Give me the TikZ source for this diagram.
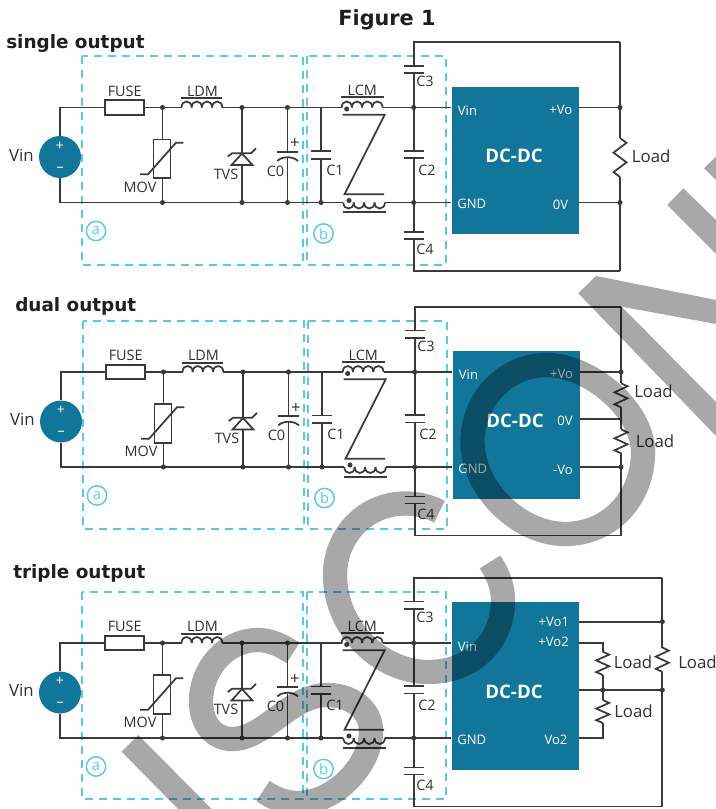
\documentclass[tikz,border=0pt]{standalone}
\usepackage{fontspec}
\setmainfont{Open Sans}
\newfontfamily\headfont{DejaVu Sans}
\definecolor{wirec}{HTML}{3A3A3A}
\definecolor{textc}{HTML}{303030}
\definecolor{bluec}{HTML}{11769A}
\definecolor{cyanc}{HTML}{55CBE5}
\tikzset{
  wire/.style={draw=wirec,line width=1.3pt},
  jdot/.style={circle,fill=wirec,inner sep=0pt,minimum size=3.8pt},
  lab/.style={text=textc,inner sep=0pt,font=\fontsize{10.8}{12}\selectfont},
  bigl/.style={text=textc,inner sep=0pt,font=\fontsize{12.6}{14}\selectfont},
  inbox/.style={text=white,inner sep=0pt,font=\fontsize{9.8}{12}\selectfont},
  dclab/.style={text=white,inner sep=0pt,font=\fontsize{14}{16}\selectfont\bfseries},
  head/.style={text=black!88,inner sep=0pt,font=\headfont\bfseries\fontsize{13.8}{16}\selectfont,anchor=base west},
  zone/.style={draw=cyanc,line width=1.4pt,dash pattern=on 6pt off 4.5pt},
  zonemark/.style={circle,draw=cyanc,text=cyanc,line width=1.1pt,inner sep=0pt,minimum size=14.5pt,font=\fontsize{11}{12}\selectfont},
  srcnode/.style={circle,fill=bluec,inner sep=0pt,minimum size=31.5pt},
  fusebox/.style={rectangle,draw=wirec,line width=1.3pt,fill=white,inner sep=0pt,minimum width=29pt,minimum height=10.8pt},
  movbox/.style={rectangle,draw=wirec,line width=1.3pt,fill=white,inner sep=0pt,minimum width=12.8pt,minimum height=29pt},
  dcbox/.style={rectangle,fill=bluec,inner sep=0pt},
  mark1/.style={fill=black,fill opacity=.34,draw=none},
  mark2/.style={draw=black,draw opacity=.34,line width=18.2pt,line cap=butt}
}
% coil: #1 start x, #2 rail y, #3 half hump width, #4 hump offset (negative = up)
\newcommand{\coilpart}[4]{%
  \foreach \i in {0,1,2,3}{%
    \draw[wire] ({#1+2*#3*\i},#2) .. controls ({#1+2*#3*\i},{#2+#4}) and ({#1+2*#3*\i+2*#3},{#2+#4}) .. ({#1+2*#3*\i+2*#3},#2);
  }}
% resistor: #1 x, #2 top y, #3 bottom y
\newcommand{\respart}[3]{%
  \draw[wire,line join=miter] (#1,#2) -- ++(6.5,{(#3-#2)/8}) -- ++(-13,{(#3-#2)/4}) -- ++(13,{(#3-#2)/4}) -- ++(-13,{(#3-#2)/4}) -- (#1,#3);}
% common part of a panel: #1 prefix, #2 dx, #3 dy, #4 frame right x, #5 DC box top y, #6 zone top, #7 zone bottom
\newcommand{\panelpart}[7]{%
\begin{scope}[shift={(#2,#3)},name prefix=#1-]
  % zones
  \draw[zone] (82,#6) rectangle (303,#7);
  \draw[zone] (307,#6) rectangle (446,#7);
  \node[zonemark] (ma) at (96,231) {a};
  \node[zonemark] (mb) at (323.5,233.5) {b};
  % source
  \node[srcnode] (vs) at (60,157) {};
  \node[inner sep=0pt,text=white,font=\fontsize{10.5}{12}\selectfont] (vsp) at (60,146) {+};
  \node[inner sep=0pt,text=white,font=\fontsize{10.5}{12}\selectfont] (vsm) at (60,169) {–};
  \node[bigl] (vinl) at (21.3,155) {Vin};
  % rail coordinates
  \coordinate (tl) at (60,107.5);
  \coordinate (bl) at (60,202.5);
  \coordinate (n1t) at (162.5,107.5);
  \coordinate (n1b) at (162.5,202.5);
  \coordinate (n2t) at (242,107.5);
  \coordinate (n2b) at (242,202.5);
  \coordinate (n3t) at (287.5,107.5);
  \coordinate (n3b) at (287.5,202.5);
  \coordinate (n4t) at (321,107.5);
  \coordinate (n4b) at (321,202.5);
  \coordinate (n5t) at (413.7,107.5);
  \coordinate (n5b) at (413.7,202.5);
  \coordinate (ldmL) at (181.5,107.5);
  \coordinate (ldmR) at (222.3,107.5);
  \coordinate (lcmTL) at (341.7,107.5);
  \coordinate (lcmTR) at (382.7,107.5);
  \coordinate (lcmBL) at (343.3,202.5);
  \coordinate (lcmBR) at (385,202.5);
  % fuse and rails
  \node[fusebox] (fuse) at (124.5,107.5) {};
  \node[lab] (fusel) at (124.7,91) {FUSE};
  \draw[wire] (vs.north) -- (tl) -- (fuse.west);
  \draw[wire] (fuse.east) -- (n1t) -- (ldmL);
  \draw[wire] (ldmR) -- (n2t) -- (n3t) -- (n4t) -- (lcmTL);
  \draw[wire] (lcmTR) -- (n5t);
  \draw[wire] (vs.south) -- (bl) -- (n1b) -- (n2b) -- (n3b) -- (n4b) -- (lcmBL);
  \draw[wire] (lcmBR) -- (n5b);
  % LDM
  \coilpart{181.5}{107.5}{5.1}{-8}
  \draw[wire] (181.3,98.3) -- (222.3,98.3);
  \node[lab] (ldml) at (202.5,91.3) {LDM};
  % MOV
  \node[movbox] (mov) at (162,158.8) {};
  \draw[wire] (n1t) -- (mov.north -| n1t);
  \draw[wire] (mov.south -| n1t) -- (n1b);
  \draw[wire] (140,174.3) -- (148,174.3) -- (176,142.7) -- (183.3,142.7);
  \node[lab] (movl) at (140,187) {MOV};
  % TVS
  \draw[wire] (n2t) -- (n2b);
  \draw[wire,fill=white] (242,153.5) -- (252.5,165) -- (231.5,165) -- cycle;
  \draw[wire] (227.7,156.5) -- (232,153.3) -- (251,153.3) -- (256,148.3);
  \node[lab] (tvsl) at (226,174) {TVS};
  % C0
  \draw[wire] (n3t) -- (287.5,151.7);
  \draw[wire] (277,151.7) -- (297.7,151.7);
  \draw[wire] (277.3,161) .. controls (282,156) and (293,156) .. (298,161);
  \draw[wire] (287.5,157) -- (n3b);
  \node[lab] (c0l) at (275.5,171) {C0};
  \node[bigl] (c0p) at (295,144) {+};
  % C1
  \draw[wire] (n4t) -- (321,151);
  \draw[wire] (311,151) -- (331,151);
  \draw[wire] (311,158.7) -- (331,158.7);
  \draw[wire] (321,158.7) -- (n4b);
  \node[lab] (c1l) at (335,170) {C1};
  % LCM
  \coilpart{341.7}{107.5}{5.1}{-8}
  \coilpart{343.3}{202.5}{5.2}{8}
  \draw[wire] (341,97.3) -- (384,97.3);
  \draw[wire] (343.3,212.3) -- (386,212.3);
  \draw[wire] (342.7,114.7) -- (384.7,114.7) -- (344.5,194.3) -- (384,194.3);
  \node[jdot] (lcmd1) at (346.7,109) {};
  \node[jdot] (lcmd2) at (349,200.5) {};
  \node[lab] (lcml) at (362.3,90.7) {LCM};
  % C2, C3, C4 and frame
  \coordinate (ftl) at (413.7,42.3);
  \coordinate (fbl) at (413.7,271);
  \coordinate (ftr) at (#4,42.3);
  \coordinate (fbr) at (#4,271);
  \draw[wire] (ftr) -- (ftl) -- (413.7,66);
  \draw[wire] (403.7,66) -- (423.7,66);
  \draw[wire] (403.7,73.3) -- (423.7,73.3);
  \draw[wire] (413.7,73.3) -- (n5t) -- (413.7,150.7);
  \draw[wire] (403.7,150.7) -- (423.7,150.7);
  \draw[wire] (403.7,158) -- (423.7,158);
  \draw[wire] (413.7,158) -- (n5b) -- (413.7,232);
  \draw[wire] (403.7,232) -- (423.7,232);
  \draw[wire] (403.7,239) -- (423.7,239);
  \draw[wire] (413.7,239) -- (fbl) -- (fbr);
  \node[lab] (c3l) at (425,81.7) {C3};
  \node[lab] (c2l) at (427,170) {C2};
  \node[lab] (c4l) at (425,249.5) {C4};
  % DC-DC box
  \path ({(451.7+579)/2},{(#5+234)/2}) node[dcbox,minimum width=95.5pt,minimum height={(234-#5)*.75pt}] (dc) {};
  \draw[wire] (n5t) -- (dc.west |- n5t);
  \draw[wire] (n5b) -- (dc.west |- n5b);
  \node[inbox,anchor=west] (vinb) at (457.7,110.7) {Vin};
  \node[inbox,anchor=west] (gndb) at (457,204.3) {GND};
  \node[dclab] (dcl) at (514,156) {DC-DC};
  % dots
  \foreach \n in {n1t,n2t,n3t,n1b,n2b,n3b,n4b,n5t,n5b}{\node[jdot] at (\n) {};}
\end{scope}}
\begin{document}
\begin{tikzpicture}[x=.75pt,y=-.75pt]
\useasboundingbox (0,0) rectangle (716,809);
\node[inner sep=0pt,text=black!88,font=\headfont\bfseries\fontsize{15.6}{18}\selectfont,anchor=base] (fig) at (387,25.5) {Figure 1};
\node[head] (h1) at (6,48.7) {single output};
\node[head] (h2) at (15,311.5) {dual output};
\node[head] (h3) at (13,578.5) {triple output};

% ---------- single
\panelpart{p1}{0}{0}{620}{86.7}{56}{265}
\begin{scope}[shift={(0,0)},name prefix=p1-]
  \coordinate (vot) at (620,107.5);
  \coordinate (vob) at (620,202.5);
  \draw[wire] (ftr) -- (vot) -- (620,138);
  \respart{620}{138}{177}
  \draw[wire] (620,177) -- (vob) -- (fbr);
  \draw[wire] (dc.east |- vot) -- (vot);
  \draw[wire] (dc.east |- vob) -- (vob);
  \node[jdot] at (vot) {};
  \node[jdot] at (vob) {};
  \node[bigl,anchor=west] (loadl) at (631.7,156) {Load};
  \node[inbox,anchor=east] (vo1) at (572.5,109.5) {+Vo};
  \node[inbox,anchor=east] (vo2) at (568.5,205.3) {0V};
\end{scope}

% ---------- dual
\panelpart{p2}{1}{264.5}{620}{86.7}{56.5}{264.5}
\begin{scope}[shift={(1,264.5)},name prefix=p2-]
  \coordinate (vot) at (620,107.5);
  \coordinate (vom) at (620,154.8);
  \coordinate (vob) at (620,202.5);
  \draw[wire] (ftr) -- (vot) -- (620,118.8);
  \respart{620}{118.8}{142.8}
  \draw[wire] (620,142.8) -- (vom) -- (620,164.8);
  \respart{620}{164.8}{188.8}
  \draw[wire] (620,188.8) -- (vob) -- (fbr);
  \draw[wire] (dc.east |- vot) -- (vot);
  \draw[wire] (dc.east |- vom) -- (vom);
  \draw[wire] (dc.east |- vob) -- (vob);
  \node[jdot] at (vot) {};
  \node[jdot] at (vob) {};
  \node[bigl,anchor=west] (loadl1) at (633,126.2) {Load};
  \node[bigl,anchor=west] (loadl2) at (634.5,176.5) {Load};
  \node[inbox,anchor=east] (vo1) at (572.3,109.5) {+Vo};
  \node[inbox,anchor=east] (vo2) at (572,156.2) {0V};
  \node[inbox,anchor=east] (vo3) at (572,205.5) {-Vo};
\end{scope}

% ---------- triple
\panelpart{p3}{0}{535.5}{662.3}{66.5}{56.5}{263.5}
\begin{scope}[shift={(0,535.5)},name prefix=p3-]
  \coordinate (a1) at (662.3,86.2);
  \coordinate (a2) at (602.7,107.2);
  \coordinate (am) at (602.7,154.5);
  \coordinate (bm) at (662.3,154.5);
  \coordinate (a3) at (602.7,202.5);
  \draw[wire] (ftr) -- (a1) -- (662.3,112);
  \respart{662.3}{112}{136.4}
  \draw[wire] (662.3,136.4) -- (bm) -- (fbr);
  \draw[wire] (dc.east |- a1) -- (a1);
  \draw[wire] (dc.east |- a2) -- (a2) -- (602.7,116.2);
  \respart{602.7}{116.2}{139.5}
  \draw[wire] (602.7,139.5) -- (am) -- (602.7,164.5);
  \respart{602.7}{164.5}{187.5}
  \draw[wire] (602.7,187.5) -- (a3) -- (dc.east |- a3);
  \draw[wire] (dc.east |- am) -- (am) -- (bm);
  \node[jdot] at (a1) {};
  \node[jdot] at (am) {};
  \node[jdot] at (bm) {};
  \node[bigl,anchor=west] (loadl1) at (613.5,126.2) {Load};
  \node[bigl,anchor=west] (loadl2) at (678,126.2) {Load};
  \node[bigl,anchor=west] (loadl3) at (614,175.5) {Load};
  \node[inbox,anchor=east] (vo1) at (569.3,86.2) {+Vo1};
  \node[inbox,anchor=east] (vo2) at (569,106.5) {+Vo2};
  \node[inbox,anchor=east] (vo3) at (567.7,204.8) {Vo2};
\end{scope}

% ---------- watermark
\fill[mark1] (596,276) -- (716,300) -- (716,324) -- (621.7,306.7) -- (716,402) -- (716,436) -- (578.3,293.3) -- cycle;
\fill[mark1] (683.3,188.3) -- (716,220) -- (716,254) -- (667.3,205) -- cycle;
\fill[mark1] (704,168.3) -- (716,156.7) -- (716,180) -- cycle;
\fill[mark1] (121.7,751.7) -- (138.3,735) -- (211.7,809) -- (178,809) -- cycle;
\draw[mark2] (293,653) .. controls (281,645) and (270,640) .. (258,640) .. controls (225,640) and (201,670) .. (201,701) .. controls (201,725) and (215,739) .. (232,739) .. controls (265,739) and (290,695) .. (327,695) .. controls (352,695) and (371,710) .. (371,731) .. controls (371,765) and (335,803) .. (298,803) .. controls (285,803) and (273,798) .. (263,791);
\draw[mark2] (439.5,511.7) .. controls (429,506) and (417,503.5) .. (405,503.5) .. controls (366,503.5) and (335,535) .. (335,575) .. controls (335,628) and (380,672) .. (428,672) .. controls (472,672) and (503,642) .. (503,600) .. controls (503,587) and (498,574) .. (490,562);
\draw[mark2] (547,365) .. controls (590,365) and (643,410) .. (643,452) .. controls (643,498) and (610,534) .. (565,534) .. controls (520,534) and (472.5,490) .. (472.5,441.7) .. controls (472.5,400) and (505,365) .. (547,365) -- cycle;
\end{tikzpicture}
\end{document}
